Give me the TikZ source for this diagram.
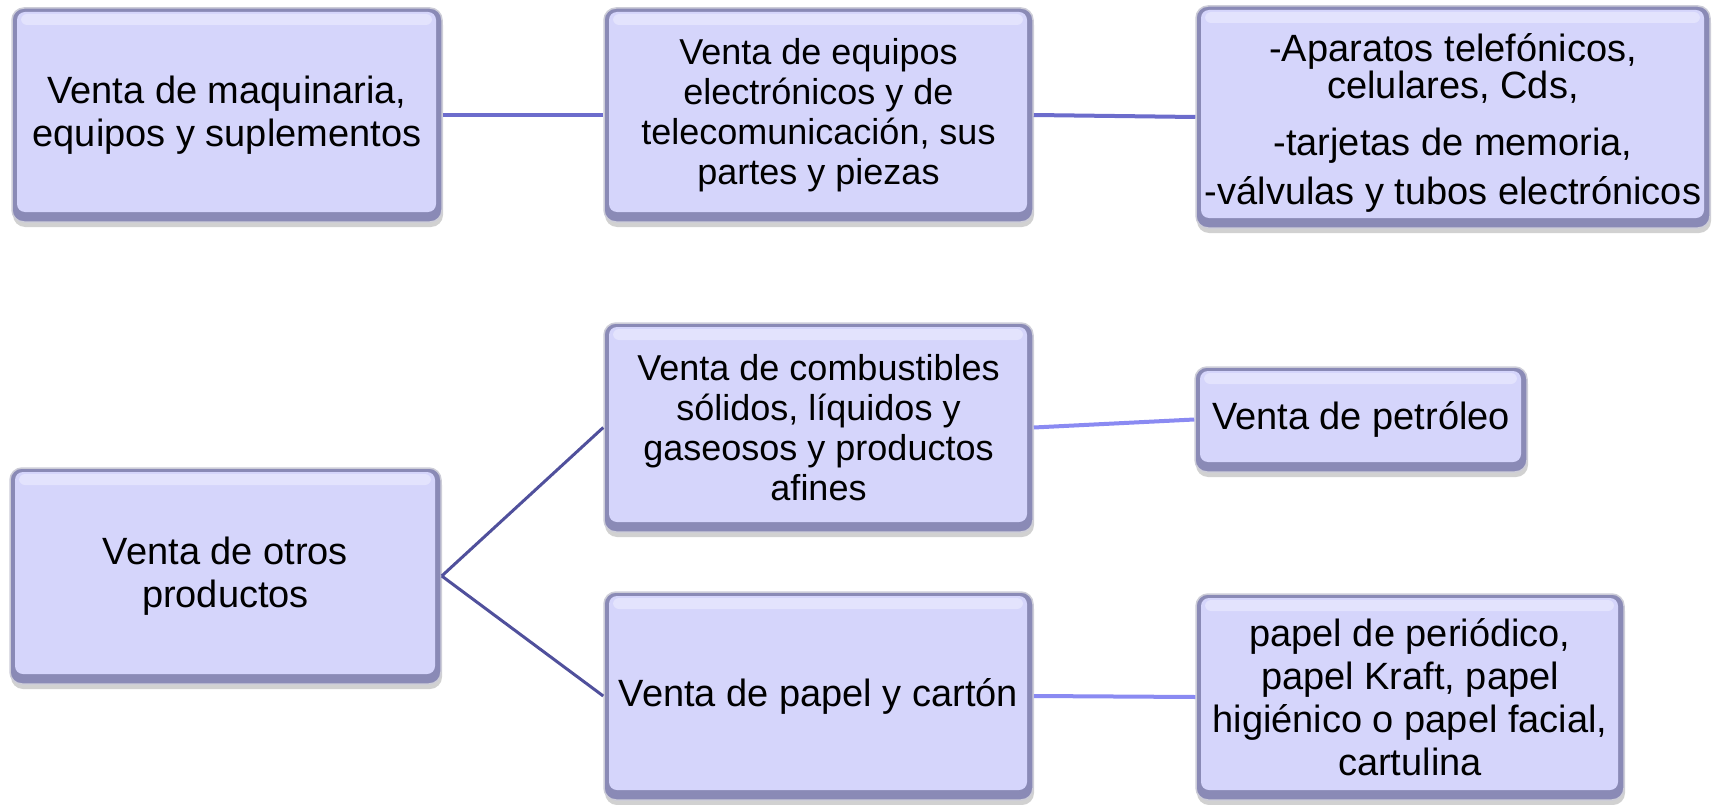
\documentclass[tikz,border=0pt]{standalone}
\usepackage{fontspec}
\setmainfont{Liberation Sans}
\usetikzlibrary{shadows}
\definecolor{boxfill}{HTML}{D5D5FB}
\definecolor{boxtop}{HTML}{E3E3FD}
\definecolor{boxedge}{HTML}{8A8AB6}
\definecolor{boxrim}{HTML}{CDCDD8}
\definecolor{linetop}{HTML}{6C6CCC}
\definecolor{linedark}{HTML}{50509C}
\definecolor{linelight}{HTML}{8A8AF2}
\tikzset{
  bevbox/.style={rounded corners=12pt, fill=boxedge, draw=boxrim, line width=1.5pt,
    drop shadow={shadow xshift=1pt, shadow yshift=-5pt, opacity=0.3, fill=black!60},
    inner sep=0pt, align=center, font=\fontsize{38}{43}\selectfont,
    path picture={
      \fill[boxfill, rounded corners=8pt]
        ([xshift=5pt,yshift=-4pt]path picture bounding box.north west)
        rectangle ([xshift=-6pt,yshift=10pt]path picture bounding box.south east);
      \fill[boxtop, rounded corners=6pt]
        ([xshift=9pt,yshift=-6pt]path picture bounding box.north west)
        rectangle ([xshift=-10pt,yshift=-17pt]path picture bounding box.north east);
    }},
  smalltext/.style={font=\fontsize{36}{40}\selectfont},
  toplink/.style={draw=linetop, line width=4pt},
  darklink/.style={draw=linedark, line width=3pt},
  lightlink/.style={draw=linelight, line width=4pt},
}
\begin{document}
\begin{tikzpicture}[x=1pt,y=-1pt]
\useasboundingbox (0,0) rectangle (1715,805);
\node[bevbox, minimum width=430pt, minimum height=214pt] (b1) at (227,115)
  {Venta de maquinaria,\\equipos y suplementos};
\node[bevbox, smalltext, minimum width=429pt, minimum height=214pt] (b2) at (818.5,115)
  {Venta de equipos\\electrónicos y de\\telecomunicación, sus\\partes y piezas};
\node[bevbox, font=\fontsize{38}{37}\selectfont, minimum width=514pt, minimum height=222pt] (b3) at (1453,117)
  {\rule{0pt}{40pt}-Aparatos telefónicos,\\celulares, Cds,\\[20pt]-tarjetas de memoria,\\[12pt]-válvulas y tubos electrónicos};
\node[bevbox, smalltext, minimum width=429pt, minimum height=209pt] (b4) at (818.5,427.5)
  {Venta de combustibles\\sólidos, líquidos y\\gaseosos y productos\\afines};
\node[bevbox, minimum width=332pt, minimum height=105pt] (b5) at (1361,419.5)
  {Venta de petróleo};
\node[bevbox, minimum width=431pt, minimum height=216pt] (b6) at (225.5,576)
  {Venta de otros\\productos};
\node[bevbox, minimum width=429pt, minimum height=208pt] (b7) at (818.5,696)
  {Venta de papel y cartón};
\node[bevbox, minimum width=428pt, minimum height=206pt] (b8) at (1410,697)
  {papel de periódico,\\papel Kraft, papel\\higiénico o papel facial,\\cartulina};
\draw[toplink] (b1.east) -- (b2.west);
\draw[toplink] (b2.east) -- (b3.west);
\draw[darklink] (b6.east) -- (b4.west);
\draw[darklink] (b6.east) -- (b7.west);
\draw[lightlink] (b4.east) -- (b5.west);
\draw[lightlink] (b7.east) -- (b8.west);
\end{tikzpicture}
\end{document}
